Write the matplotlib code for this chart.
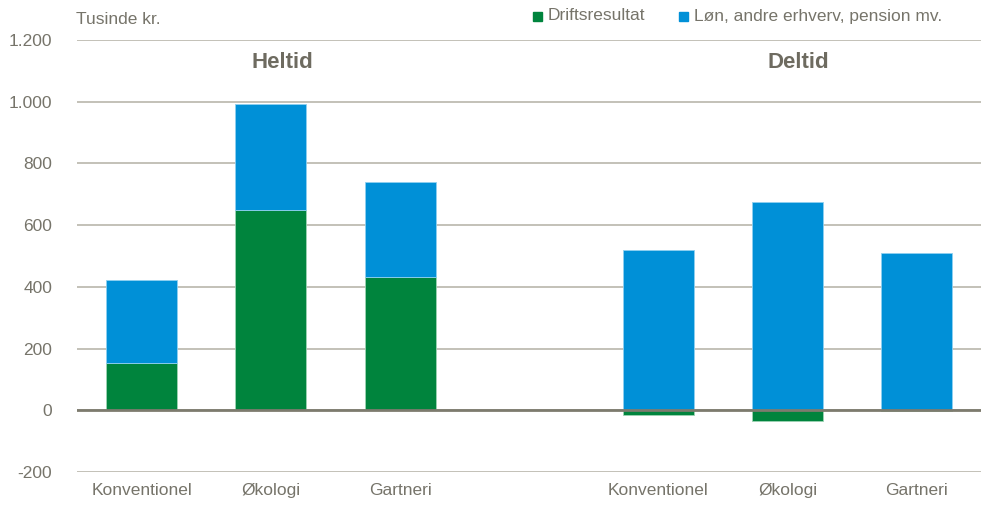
import matplotlib.pyplot as plt
import numpy as np

# Tusinde kr. pr. bedrift
kategorier = ["Konventionel", "Økologi", "Gartneri", "", "Konventionel", "Økologi", "Gartneri"]
driftsresultat = [152, 648, 431, 0, -16, -36, -2]
loen_mv = [269, 344, 308, 0, 519, 674, 509]

groen = "#00843d"
blaa = "#0090d7"
tekst = "#76746a"

plt.rcParams['font.family'] = ['Liberation Sans Narrow', 'Liberation Sans', 'DejaVu Sans']

fig = plt.figure(figsize=(9.89, 5.13), dpi=100)
ax = fig.add_axes([0.0779, 0.08, 0.9145, 0.842])

x = np.arange(len(kategorier))
d = np.array(driftsresultat)
l = np.array(loen_mv)
# positive dele stables over nul, negative under
bund_blaa = np.where(d > 0, d, 0)
mask = np.array([k != "" for k in kategorier])

ax.bar(x[mask], d[mask], width=0.55, color=groen, edgecolor="#9fd3b4", linewidth=0.6, zorder=3)
ax.bar(x[mask], l[mask], bottom=bund_blaa[mask], width=0.55, color=blaa,
       edgecolor="#8fd0f0", linewidth=0.6, zorder=3)

ax.set_xlim(-0.5, 6.5)
ax.set_ylim(-200, 1200)
ax.set_yticks(range(-200, 1201, 200))
ax.set_yticklabels([f"{v:,}".replace(",", ".") for v in range(-200, 1201, 200)])
ax.yaxis.grid(True, color="#b9b6ab", linewidth=1.2, zorder=0)
ax.axhline(0, color="#7d7b6e", linewidth=2.0, zorder=4)
ax.set_xticks(x)
ax.set_xticklabels(kategorier)
ax.tick_params(axis="both", length=0, labelsize=12.5, colors=tekst)
ax.tick_params(axis="y", pad=18)
ax.tick_params(axis="x", pad=8)
for s in ax.spines.values():
    s.set_visible(False)

ax.text(1.09, 1162, "Heltid", ha="center", va="top", fontsize=16, fontweight="bold", color="#6e6b60")
ax.text(5.08, 1162, "Deltid", ha="center", va="top", fontsize=16, fontweight="bold", color="#6e6b60")
fig.text(0.077, 0.962, "Tusinde kr.", ha="left", va="center", fontsize=12.5, color=tekst)

# forklaring
fig.patches.append(plt.Rectangle((533 / 989, 1 - 21 / 513), 9 / 989, 9 / 513,
                                 transform=fig.transFigure, color=groen))
fig.text(548 / 989, 1 - 16 / 513, "Driftsresultat", ha="left", va="center", fontsize=12.5, color=tekst)
fig.patches.append(plt.Rectangle((679 / 989, 1 - 21 / 513), 9 / 989, 9 / 513,
                                 transform=fig.transFigure, color=blaa))
fig.text(694 / 989, 1 - 16 / 513, "Løn, andre erhverv, pension mv.", ha="left", va="center",
         fontsize=12.5, color=tekst)

fig.savefig("out.png", dpi=100)
